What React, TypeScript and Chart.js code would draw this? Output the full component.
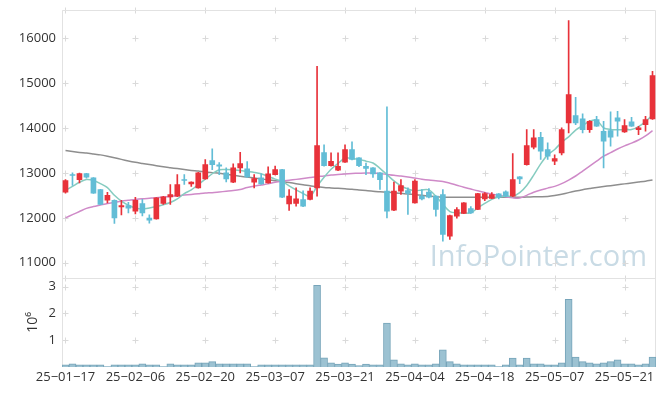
import React, { useEffect, useRef } from 'react';
import { Chart, registerables } from 'chart.js';

Chart.register(...registerables);

const dates = [
  '25-01-17','25-01-20','25-01-21','25-01-22','25-01-23','25-01-24','25-01-31','25-02-03','25-02-04','25-02-05',
  '25-02-06','25-02-07','25-02-10','25-02-11','25-02-12','25-02-13','25-02-14','25-02-17','25-02-18','25-02-19',
  '25-02-20','25-02-21','25-02-24','25-02-25','25-02-26','25-02-27','25-02-28','25-03-04','25-03-05','25-03-06',
  '25-03-07','25-03-10','25-03-11','25-03-12','25-03-13','25-03-14','25-03-17','25-03-18','25-03-19','25-03-20',
  '25-03-21','25-03-24','25-03-25','25-03-26','25-03-27','25-03-28','25-03-31','25-04-01','25-04-02','25-04-03',
  '25-04-04','25-04-07','25-04-08','25-04-09','25-04-10','25-04-11','25-04-14','25-04-15','25-04-16','25-04-17',
  '25-04-18','25-04-21','25-04-22','25-04-23','25-04-24','25-04-25','25-04-28','25-04-29','25-04-30','25-05-02',
  '25-05-07','25-05-08','25-05-09','25-05-12','25-05-13','25-05-14','25-05-15','25-05-16','25-05-19','25-05-20',
  '25-05-21','25-05-22','25-05-23','25-05-26','25-05-27',
];

const opens = [
  12569,12962,12851,12984,12889,12629,12391,12391,12245,12273,
  12147,12318,11993,11978,12318,12467,12481,12851,12756,12667,
  12867,13273,13177,13000,12793,13111,13088,12793,12889,12778,
  12962,13073,12311,12318,12407,12407,12667,13451,13162,13058,
  13236,13518,13333,13147,13111,13000,12592,12169,12592,12607,
  12333,12481,12570,12481,12518,11592,12037,12096,12207,12185,
  12422,12429,12533,12578,12481,12911,13184,13569,13791,13518,
  13258,13444,14111,14273,14200,13962,14184,13925,13940,14222,
  13911,14133,13962,14073,14200,
];

const closes = [
  12829,12945,12984,12902,12547,12296,12502,12000,12273,12213,
  12391,12111,11950,12444,12467,12518,12740,12830,12793,13000,
  13184,13184,13147,12867,13111,13207,12911,12873,12756,12978,
  13073,12458,12481,12422,12258,12592,13607,13162,13258,13147,
  13518,13296,13162,13096,12978,12851,12147,12592,12718,12540,
  12816,12422,12458,12185,11630,12051,12185,12333,12111,12540,
  12540,12518,12467,12481,12851,12867,13607,13778,13480,13370,
  13318,13962,14740,14111,13962,14147,14036,13703,13791,14147,
  14051,14036,14000,14184,15162,
];

const highs = [
  12850,13000,12995,12990,12895,12635,12569,12400,12391,12347,
  12458,12413,12067,12450,12480,12740,12962,12962,12800,13010,
  13296,13533,13229,13111,13200,13459,13250,12962,12980,13133,
  13150,13080,12629,12667,12600,12667,15369,13622,13444,13444,
  13622,13690,13340,13220,13115,13005,14467,12793,12851,12667,
  12850,12629,12650,12490,12629,12060,12230,12340,12250,12545,
  12560,12560,12540,12600,13429,12915,13962,13962,13900,13667,
  13400,14000,16384,14680,14311,14160,14258,14147,14356,14370,
  14184,14236,14036,14258,15258,
];

const lows = [
  12550,12720,12778,12880,12540,12290,12331,11873,12067,12111,
  12089,12044,11880,11970,12300,12296,12470,12740,12700,12660,
  12860,13073,12962,12800,12780,13000,12900,12667,12740,12770,
  12955,12450,12162,12258,12250,12400,12481,13150,13150,13050,
  13230,13290,13140,12960,12900,12629,12000,12160,12518,12073,
  12325,12400,12440,12037,11480,11518,11990,12090,12100,12180,
  12380,12425,12420,12470,12470,12760,13170,13533,13300,13300,
  13184,13400,13889,14073,13889,13900,14030,13111,13593,13815,
  13900,14030,13851,13925,14190,
];

// volume in millions of shares
const volumes = [
  0.08,0.12,0.08,0.08,0.08,0.08,0.02,0.08,0.08,0.08,
  0.08,0.12,0.08,0.08,0.02,0.12,0.08,0.08,0.08,0.16,
  0.16,0.2,0.12,0.12,0.12,0.12,0.12,0.02,0.08,0.08,
  0.08,0.08,0.08,0.08,0.08,0.08,3.05,0.34,0.16,0.11,
  0.16,0.11,0.05,0.11,0.08,0.08,1.64,0.27,0.12,0.08,
  0.12,0.08,0.08,0.12,0.64,0.2,0.12,0.08,0.08,0.08,
  0.08,0.08,0.02,0.08,0.33,0.08,0.33,0.12,0.12,0.08,
  0.08,0.16,2.53,0.37,0.2,0.16,0.12,0.16,0.2,0.27,
  0.12,0.12,0.08,0.12,0.37,
];

const ma5 = [
  12610,12700,12790,12850,12830,12760,12670,12500,12370,12280,
  12220,12200,12220,12250,12290,12340,12420,12540,12620,12740,
  12860,12980,13070,13075,13070,13050,13030,13010,12980,12920,
  12860,12810,12710,12620,12540,12480,12700,12900,13080,13210,
  13330,13320,13300,13260,13220,13100,12960,12820,12710,12640,
  12600,12620,12620,12480,12300,12140,12110,12110,12110,12220,
  12320,12410,12460,12480,12480,12560,12720,12950,13200,13400,
  13520,13680,13800,13950,14050,14150,14170,14000,13965,13960,
  13960,13962,14030,14140,14290,
];

const ma20 = [
  12000,12070,12140,12210,12250,12285,12320,12345,12370,12390,
  12410,12425,12435,12445,12460,12475,12490,12505,12520,12535,
  12550,12560,12575,12590,12605,12630,12675,12705,12730,12755,
  12790,12815,12835,12855,12875,12895,12915,12930,12950,12962,
  12975,12985,12992,12998,12995,12985,12965,12945,12930,12910,
  12885,12860,12840,12825,12810,12770,12725,12680,12640,12600,
  12565,12530,12500,12470,12445,12440,12500,12570,12620,12660,
  12700,12760,12840,12930,13040,13150,13260,13370,13450,13530,
  13600,13660,13730,13820,13940,
];

const ma60 = [
  13495,13475,13455,13440,13420,13400,13370,13335,13300,13265,
  13235,13210,13185,13160,13135,13115,13095,13075,13055,13040,
  13020,13005,12990,12970,12945,12925,12905,12885,12865,12845,
  12825,12808,12785,12760,12735,12715,12690,12675,12665,12655,
  12645,12635,12620,12605,12590,12580,12570,12560,12545,12530,
  12515,12500,12485,12470,12460,12458,12455,12455,12455,12455,
  12455,12455,12455,12455,12455,12458,12462,12466,12470,12475,
  12495,12525,12560,12595,12625,12650,12675,12695,12715,12735,
  12755,12775,12795,12815,12840,
];

const priceTicks = [11000, 12000, 13000, 14000, 15000, 16000];
const volumeTicks = [1, 2, 3];

const RED = '#e8323a';
const BLUE = '#62bdd6';
const FONT = 'Open Sans';
const TEXT = '#333333';

export default function App() {
  const ref = useRef<HTMLCanvasElement>(null);

  useEffect(() => {
    document.body.style.margin = '0';
    const canvas = ref.current!;
    const colors = closes.map((c, i) => (c >= opens[i] ? RED : BLUE));

    const deco = {
      id: 'deco',
      beforeDatasetsDraw(chart: any) {
        const { ctx, chartArea: a, scales } = chart;
        const x = scales.x, y = scales.y, y2 = scales.y2;
        ctx.save();
        // watermark
        ctx.font = `29px "${FONT}"`;
        ctx.fillStyle = '#c9dbe5';
        ctx.textAlign = 'right';
        ctx.textBaseline = 'alphabetic';
        ctx.fillText('InfoPointer.com', a.right - 9, y.bottom - 12);
        // crosses
        ctx.strokeStyle = '#dadada';
        ctx.lineWidth = 1;
        const xs: number[] = [];
        for (let i = 0; i < dates.length; i += 10) xs.push(Math.round(x.getPixelForValue(i)) + 0.5);
        const ys: number[] = [a.top, y.bottom];
        priceTicks.forEach((v) => ys.push(y.getPixelForValue(v)));
        volumeTicks.forEach((v) => ys.push(y2.getPixelForValue(v * 1e6)));
        ctx.beginPath();
        xs.forEach((px) => {
          ys.forEach((py0) => {
            const py = Math.round(py0) + 0.5;
            ctx.moveTo(px - 3, py);
            ctx.lineTo(px + 3, py);
            ctx.moveTo(px, py - 3);
            ctx.lineTo(px, py + 3);
          });
        });
        ctx.stroke();
        // frame and panel separator
        ctx.strokeStyle = '#e2e2e2';
        ctx.beginPath();
        const L = Math.round(a.left) + 0.5, R = Math.round(a.right) - 0.5;
        const T = Math.round(a.top) + 0.5, B = Math.round(a.bottom) - 0.5;
        const S = Math.round(y.bottom) + 0.5;
        ctx.moveTo(L, B); ctx.lineTo(L, T); ctx.lineTo(R, T); ctx.lineTo(R, B);
        ctx.moveTo(L, S); ctx.lineTo(R, S);
        ctx.stroke();
        ctx.restore();
      },
      afterDraw(chart: any) {
        const { ctx, scales } = chart;
        const y2 = scales.y2;
        ctx.save();
        ctx.translate(33, (y2.top + y2.bottom) / 2);
        ctx.rotate(-Math.PI / 2);
        ctx.font = `14px "${FONT}"`;
        ctx.fillStyle = TEXT;
        ctx.textAlign = 'center';
        ctx.textBaseline = 'middle';
        ctx.fillText('10\u2076', 0, 0);
        ctx.restore();
      },
    };

    const fitY = (s: any) => {
      s.width = 62;
      s.paddingTop = 0;
      s.paddingBottom = 0;
    };

    const chart = new Chart(canvas, {
      type: 'bar',
      data: {
        labels: dates,
        datasets: [
          {
            type: 'line', data: ma60, borderColor: '#8e8e8e', borderWidth: 1.5,
            pointRadius: 0, tension: 0.2, yAxisID: 'y', order: 10,
          } as any,
          {
            type: 'line', data: ma20, borderColor: '#cf8ac8', borderWidth: 1.5,
            pointRadius: 0, tension: 0.3, yAxisID: 'y', order: 9,
          },
          {
            type: 'line', data: ma5, borderColor: '#86ccc0', borderWidth: 1.5,
            pointRadius: 0, tension: 0.3, yAxisID: 'y', order: 8,
          },
          {
            type: 'bar', data: lows.map((l, i) => [l, highs[i]]), backgroundColor: colors,
            barThickness: 1, grouped: false, yAxisID: 'y', order: 2,
          },
          {
            type: 'bar', data: opens.map((o, i) => [o, closes[i]]), backgroundColor: colors,
            barThickness: 5, grouped: false, yAxisID: 'y', order: 1,
          },
          {
            type: 'bar', data: volumes.map((v) => v * 1e6), backgroundColor: '#9cc2d2',
            borderColor: '#76a4b9', borderWidth: 1, barPercentage: 1, categoryPercentage: 1,
            grouped: false, yAxisID: 'y2', order: 3,
          },
        ],
      },
      options: {
        responsive: false,
        animation: false,
        devicePixelRatio: 1,
        layout: { padding: { top: 10, right: 9, left: 0, bottom: 0 } },
        plugins: { legend: { display: false }, tooltip: { enabled: false } },
        scales: {
          x: {
            type: 'category',
            offset: true,
            grid: { display: false, drawTicks: false },
            border: { display: false },
            ticks: {
              autoSkip: false, maxRotation: 0, minRotation: 0, padding: 2,
              font: { family: FONT, size: 13 }, color: TEXT,
              callback: (_v: any, i: number) => (i % 10 === 0 ? dates[i].replace(/-/g, '\u2212') : ''),
            },
            afterFit: (s: any) => { s.height = 29; s.paddingLeft = 0; s.paddingRight = 0; },
          },
          y2: {
            type: 'linear', position: 'left', stack: 'panels', stackWeight: 1,
            min: 0, max: 3.333e6,
            grid: { display: false, drawTicks: false },
            border: { display: false },
            afterBuildTicks: (s: any) => { s.ticks = volumeTicks.map((v) => ({ value: v * 1e6 })); },
            ticks: { padding: 6, font: { family: FONT, size: 13 }, color: TEXT, callback: (v: any) => String(Math.round(v / 1e6)) },
            afterFit: fitY,
          },
          y: {
            type: 'linear', position: 'left', stack: 'panels', stackWeight: 3,
            min: 10667, max: 16622,
            grid: { display: false, drawTicks: false },
            border: { display: false },
            afterBuildTicks: (s: any) => { s.ticks = priceTicks.map((v) => ({ value: v })); },
            ticks: { padding: 6, font: { family: FONT, size: 13 }, color: TEXT, callback: (v: any) => String(v) },
            afterFit: fitY,
          },
        },
      },
      plugins: [deco],
    } as any);

    return () => chart.destroy();
  }, []);

  return (
    <div style={{ position: 'fixed', left: 0, top: 0, width: 665, height: 396, background: '#fff' }}>
      <canvas ref={ref} width={665} height={396} style={{ display: 'block', width: 665, height: 396 }} />
    </div>
  );
}
